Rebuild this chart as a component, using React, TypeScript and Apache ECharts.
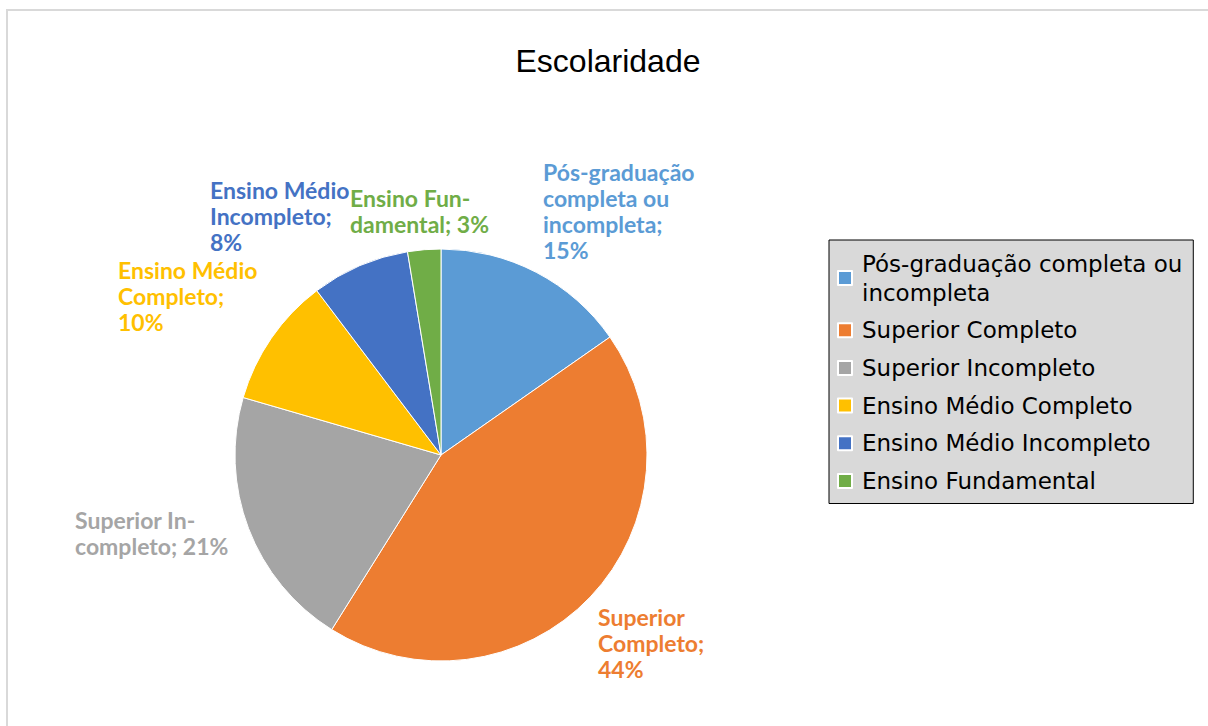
import React, { useEffect, useRef } from "react";
import * as echarts from "echarts";

const categories = [
  "Pós-graduação completa ou incompleta",
  "Superior Completo",
  "Superior Incompleto",
  "Ensino Médio Completo",
  "Ensino Médio Incompleto",
  "Ensino Fundamental",
];
const values = [15.3, 43.6, 20.6, 10.2, 7.7, 2.6];
const colors = ["#5B9BD5", "#ED7D31", "#A5A5A5", "#FFC000", "#4472C4", "#70AD47"];
const labelTemplates = [
  "Pós-graduação\ncompleta ou\nincompleta;\n{p}%",
  "Superior\nCompleto;\n{p}%",
  "Superior In-\ncompleto; {p}%",
  "Ensino Médio\nCompleto;\n{p}%",
  "Ensino Médio\nIncompleto;\n{p}%",
  "Ensino Fun-\ndamental; {p}%",
];
const legendNames: Record<string, string> = {
  "Pós-graduação completa ou incompleta": "Pós-graduação completa ou\nincompleta",
};

// top-left placement of each data label block (as Excel placed them)
const labelPlacement: [number, number][] = [
  [543, 159],
  [598, 604],
  [75, 507],
  [118, 257],
  [210, 177],
  [350, 185],
];

export default function App() {
  const ref = useRef<HTMLDivElement>(null);
  useEffect(() => {
    if (!ref.current) return;
    const chart = echarts.init(ref.current, undefined, { renderer: "svg" });
    const total = values.reduce((a, b) => a + b, 0);
    chart.setOption({
      animation: false,
      backgroundColor: "#ffffff",
      title: {
        text: "Escolaridade",
        left: 603,
        top: 40,
        textAlign: "center",
        textStyle: { fontFamily: "Liberation Sans, Arial", fontSize: 32, fontWeight: "normal", color: "#000" },
      },
      graphic: [
        {
          type: "rect",
          shape: { x: 7, y: 10, width: 1215, height: 730 },
          style: { fill: "none", stroke: "#d9d9d9", lineWidth: 2 },
          silent: true,
        },
      ],
      legend: {
        orient: "vertical",
        left: 829,
        top: 240,
        backgroundColor: "#d9d9d9",
        borderColor: "#000",
        borderWidth: 1,
        borderRadius: 0,
        padding: [9, 11, 8, 8],
        itemWidth: 14,
        itemHeight: 14,
        itemGap: 8.7,
        icon: "rect",
        formatter: (n: string) => legendNames[n] || n,
        textStyle: {
          fontFamily: "DejaVu Sans, Liberation Sans, Arial",
          fontSize: 23,
          color: "#000",
          lineHeight: 29,
          padding: [0, 0, 0, 5],
        },
        data: categories,
      },
      series: [
        {
          type: "pie",
          center: [441, 455],
          radius: 206,
          startAngle: 90,
          clockwise: true,
          data: categories.map((c, i) => ({ name: c, value: values[i], itemStyle: { color: colors[i] } })),
          itemStyle: { borderColor: "#ffffff", borderWidth: 1 },
          label: {
            show: true,
            position: "outside",
            formatter: (p: any) => labelTemplates[p.dataIndex].replace("{p}", String(Math.round((p.value / total) * 100))),
            fontFamily: "Lato, Carlito, sans-serif",
            fontWeight: "bold",
            fontSize: 23,
            lineHeight: 26,
            color: "inherit",
            align: "left",
          },
          labelLine: { show: false },
          labelLayout: (params: any) => {
            const pos = labelPlacement[params.dataIndex];
            return { x: pos[0], y: pos[1], align: "left", verticalAlign: "top", hideOverlap: false };
          },
          emphasis: { disabled: true },
        },
      ],
    });
    return () => chart.dispose();
  }, []);
  return <div ref={ref} style={{ position: "absolute", left: 0, top: 0, width: 1208, height: 726 }} />;
}
